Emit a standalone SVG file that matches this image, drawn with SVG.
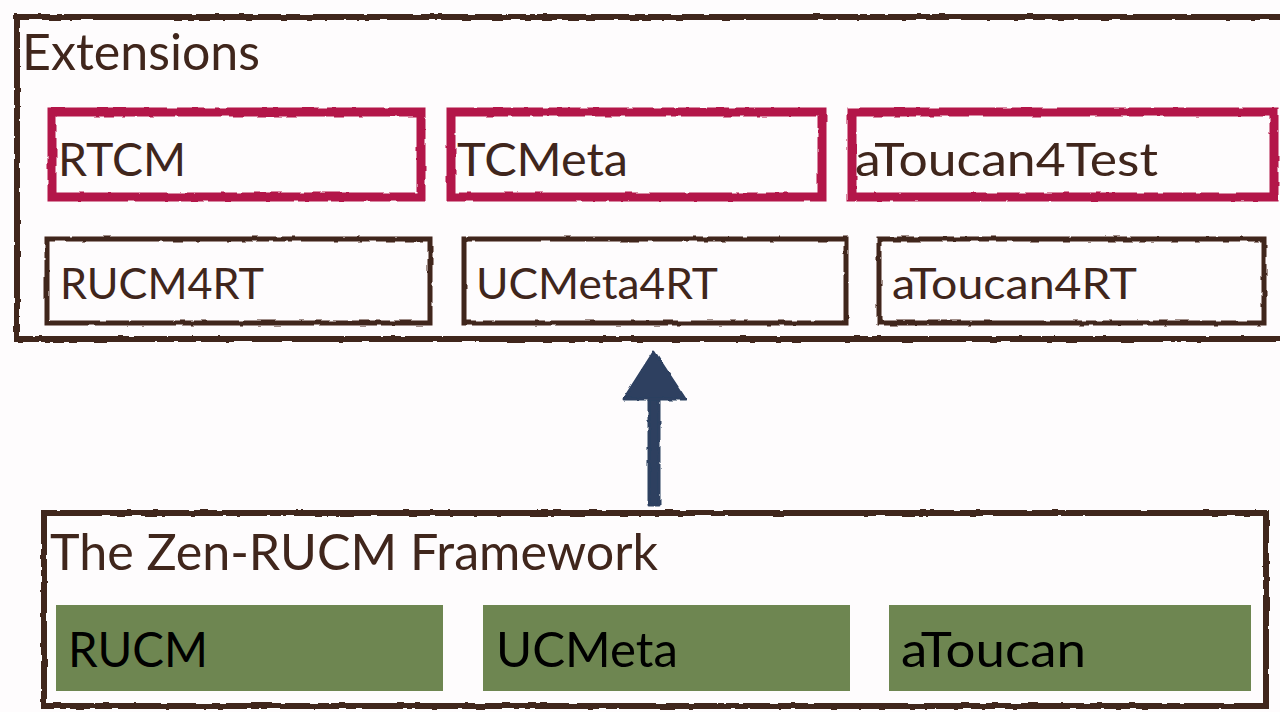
<svg xmlns="http://www.w3.org/2000/svg" width="1280" height="712" viewBox="0 0 1280 712">
<defs>
<filter id="rough" x="-5%" y="-5%" width="110%" height="110%">
<feTurbulence type="fractalNoise" baseFrequency="0.08" numOctaves="2" seed="3" result="n"/>
<feDisplacementMap in="SourceGraphic" in2="n" scale="3" xChannelSelector="R" yChannelSelector="G"/>
</filter>
<filter id="roughA" filterUnits="userSpaceOnUse" x="600" y="330" width="110" height="200">
<feTurbulence type="fractalNoise" baseFrequency="0.12" numOctaves="2" seed="5" result="n"/>
<feDisplacementMap in="SourceGraphic" in2="n" scale="3" xChannelSelector="R" yChannelSelector="G"/>
</filter>
</defs>
<style>
text{font-family:"Lato","Open Sans","Liberation Sans",sans-serif;fill:#40261c}
.title{font-size:50px}
.red{fill:none;stroke:#b31548;stroke-width:9}
.brn{fill:none;stroke:#40261c;stroke-width:5}
.frame{fill:none;stroke:#40261c;stroke-width:6}
.ext{font-size:46px}
.sub{font-size:42px}
.grn{fill:#6e8651}
.gt{font-size:48px;fill:#000}
</style>
<rect width="1280" height="712" fill="#fefcfd"/>
<g id="extensions">
<rect class="frame" x="17" y="17" width="1290" height="322" filter="url(#rough)"/>
<text class="title" x="22" y="70" textLength="238" lengthAdjust="spacingAndGlyphs">Extensions</text>
</g>
<g id="rtcm">
<rect class="red" x="52" y="112" width="369" height="85" filter="url(#rough)"/>
<text class="ext" x="58" y="176" textLength="128" lengthAdjust="spacingAndGlyphs">RTCM</text>
</g>
<g id="tcmeta">
<rect class="red" x="451" y="112" width="371" height="85" filter="url(#rough)"/>
<text class="ext" x="457" y="176" textLength="171" lengthAdjust="spacingAndGlyphs">TCMeta</text>
</g>
<g id="atoucan4test">
<rect class="red" x="852" y="112" width="422" height="85" filter="url(#rough)"/>
<text class="ext" x="855" y="176" textLength="303" lengthAdjust="spacingAndGlyphs">aToucan4Test</text>
</g>
<g id="rucm4rt">
<rect class="brn" x="47" y="239" width="383" height="84" filter="url(#rough)"/>
<text class="sub" x="60" y="299" textLength="204" lengthAdjust="spacingAndGlyphs">RUCM4RT</text>
</g>
<g id="ucmeta4rt">
<rect class="brn" x="464" y="239" width="382" height="84" filter="url(#rough)"/>
<text class="sub" x="476" y="299" textLength="242" lengthAdjust="spacingAndGlyphs">UCMeta4RT</text>
</g>
<g id="atoucan4rt">
<rect class="brn" x="879" y="239" width="385" height="84" filter="url(#rough)"/>
<text class="sub" x="892" y="299" textLength="245" lengthAdjust="spacingAndGlyphs">aToucan4RT</text>
</g>
<g id="connectors" filter="url(#roughA)">
<path d="M649 505 L649 398 L659 398 L659 505 Z" fill="#2d4061" stroke="#2d4061" stroke-width="3" stroke-linejoin="round"/>
<path d="M654 352 L685 399 L624 399 Z" fill="#2d4061" stroke="#2d4061" stroke-width="3" stroke-linejoin="round"/>
</g>
<g id="framework">
<rect class="frame" x="44" y="513" width="1222" height="193" filter="url(#rough)"/>
<text class="title" x="50" y="570" textLength="608" lengthAdjust="spacingAndGlyphs">The Zen-RUCM Framework</text>
</g>
<g id="rucm">
<rect class="grn" x="56" y="605" width="387" height="86"/>
<text class="gt" x="68" y="667" textLength="140" lengthAdjust="spacingAndGlyphs">RUCM</text>
</g>
<g id="ucmeta">
<rect class="grn" x="483" y="605" width="367" height="86"/>
<text class="gt" x="496" y="667" textLength="182" lengthAdjust="spacingAndGlyphs">UCMeta</text>
</g>
<g id="atoucan">
<rect class="grn" x="889" y="605" width="362" height="86"/>
<text class="gt" x="901" y="667" textLength="185" lengthAdjust="spacingAndGlyphs">aToucan</text>
</g>
</svg>
